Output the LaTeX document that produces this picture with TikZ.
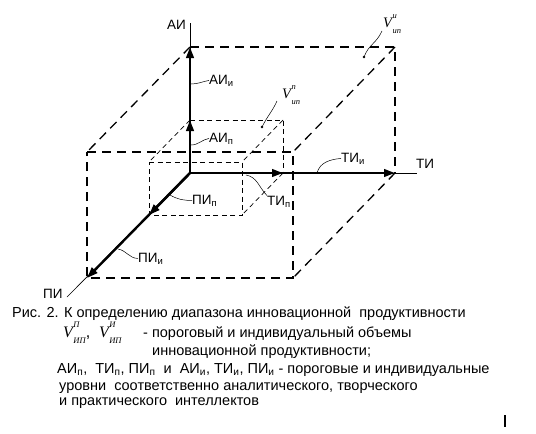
\documentclass[tikz,border=0pt]{standalone}
\usepackage{fontspec}
\setmainfont{Liberation Sans}
\newfontfamily\vserif{Liberation Serif}
\usepackage{tikz}
\usetikzlibrary{arrows.meta, positioning}

% volume symbol V with upper and lower index
\newcommand{\Vol}[2]{{\vserif\itshape V\kern0.5pt\rlap{\raisebox{0.62em}{\fontsize{8.5}{8.5}\selectfont #1}}\raisebox{-0.42em}{\fontsize{8.5}{8.5}\selectfont #2}}}

\begin{document}
\begin{tikzpicture}[x=1pt, y=-1pt,
    axis/.style={line width=0.6pt},
    vec/.style={line width=2.4pt, -{Triangle[length=11pt, width=7.5pt]}},
    bigbox/.style={line width=1.3pt, dash pattern=on 9pt off 6pt},
    smallbox/.style={line width=0.7pt, dash pattern=on 5pt off 3.5pt},
    leader/.style={line width=0.5pt},
    lbl/.style={font=\fontsize{13.5}{13.5}\selectfont, inner sep=0pt, anchor=base west},
    vlbl/.style={font=\fontsize{14.5}{14.5}\selectfont, inner sep=0pt, anchor=base west},
    captxt/.style={font=\fontsize{14.5}{15}\selectfont, inner sep=0pt, anchor=base west}]
    \useasboundingbox (0,0) rectangle (536,434);

    % Origin and axes
    \coordinate (O) at (190,173);
    \coordinate (AIend) at (190,23);
    \coordinate (TIend) at (417,173);
    \coordinate (PIend) at (67,297);

    % Individual levels (big box)
    \coordinate (AIi) at (190,47);
    \coordinate (TIi) at (395,173);
    \coordinate (PIi) at (87,278);
    \coordinate (Btr) at (395,47);
    \coordinate (Ftl) at (87,152);
    \coordinate (Ftr) at (293,152);
    \coordinate (Fbr) at (293,278);

    % Threshold levels (small box)
    \coordinate (AIp) at (190,120);
    \coordinate (TIp) at (283,173);
    \coordinate (PIp) at (149,215);
    \coordinate (btr) at (283,120);
    \coordinate (ftl) at (149,162);
    \coordinate (ftr) at (242,162);
    \coordinate (fbr) at (242,215);

    % Big box
    \draw[bigbox] (AIi) -- (Btr) -- (TIi);
    \draw[bigbox] (Ftl) -- (Ftr) -- (Fbr) -- (PIi) -- cycle;
    \draw[bigbox] (AIi) -- (Ftl);
    \draw[bigbox] (Btr) -- (Ftr);
    \draw[bigbox] (TIi) -- (Fbr);

    % Small box
    \draw[smallbox] (AIp) -- (btr) -- (TIp);
    \draw[smallbox] (ftl) -- (ftr) -- (fbr) -- (PIp) -- cycle;
    \draw[smallbox] (AIp) -- (ftl);
    \draw[smallbox] (btr) -- (ftr);
    \draw[smallbox] (TIp) -- (fbr);

    % Thin axis lines
    \draw[axis] (O) -- (AIend);
    \draw[axis] (O) -- (TIend);
    \draw[axis] (O) -- (PIend);

    % Level vectors
    \draw[vec] (O) -- (AIi);
    \draw[vec] (O) -- (TIi);
    \draw[vec] (O) -- (PIi);
    \draw[vec] (O) -- (AIp);
    \draw[vec] (O) -- (TIp);
    \draw[vec] (O) -- (PIp);

    % Axis names
    \node[lbl] (lAI) at (167,29) {АИ};
    \node[lbl] (lTI) at (416,168) {ТИ};
    \node[lbl] (lPI) at (43,298) {ПИ};

    % Level labels with leaders
    \node[lbl] (lAIi) at (209,84) {АИ\textsubscript{и}};
    \node[lbl] (lAIp) at (209,142) {АИ\textsubscript{п}};
    \node[lbl] (lTIi) at (341,162) {ТИ\textsubscript{и}};
    \node[lbl] (lTIp) at (267,205) {ТИ\textsubscript{п}};
    \node[lbl] (lPIp) at (192,204) {ПИ\textsubscript{п}};
    \node[lbl] (lPIi) at (138,262) {ПИ\textsubscript{и}};

    \coordinate (aAIi) at (191,84);
    \coordinate (aAIp) at (191,145);
    \coordinate (aTIi) at (317,173);
    \coordinate (aTIp) at (246,175);
    \coordinate (aPIp) at (170,195);
    \coordinate (aPIi) at (118,249);

    \draw[leader] (aAIi) to[out=0, in=190] (lAIi.west);
    \draw[leader] (aAIp) to[out=0, in=190] (lAIp.west);
    \draw[leader] (aTIi) to[out=75, in=185] (lTIi.west);
    \draw[leader] (aTIp) to[out=-10, in=135] (lTIp.north west);
    \draw[leader] (aPIp) to[out=-30, in=180] (lPIp.west);
    \draw[leader] (aPIi) to[out=-10, in=180] (lPIi.west);

    % Volumes
    \node[vlbl] (Vp) at (282,98) {\Vol{п}{ип}};
    \node[vlbl] (Vi) at (383,27) {\Vol{и}{ип}};
    \coordinate (dVp) at (262,127);
    \coordinate (dVi) at (364,57);
    \fill (dVp) circle (1.3);
    \fill (dVi) circle (1.3);
    \draw[leader] (dVp) .. controls (268,115) and (272,112) .. (277,101);
    \draw[leader] (dVi) .. controls (369,44) and (376,44) .. (382,31);

    % Caption
    \node[captxt] (c1) at (12,317) {Рис. 2. К определению диапазона инновационной \ продуктивности};
    \node[captxt, font=\fontsize{16}{16}\selectfont] (c2a) at (63,337) {\Vol{П}{ИП}, \ \Vol{И}{ИП}};
    \node[captxt] (c2b) at (143,337) {- пороговый и индивидуальный объемы};
    \node[captxt] (c3) at (152,355) {инновационной продуктивности;};
    \node[captxt] (c4) at (57,373) {АИ\textsubscript{п}, \ ТИ\textsubscript{п}, ПИ\textsubscript{п} \ и \ АИ\textsubscript{и}, ТИ\textsubscript{и}, ПИ\textsubscript{и} - пороговые и индивидуальные};
    \node[captxt] (c5) at (59,390) {уровни \ соответственно аналитического, творческого};
    \node[captxt] (c6) at (59,405) {и практического \ интеллектов};

    % stray mark
    \draw[line width=2pt] (505,415) -- (505,427);
\end{tikzpicture}
\end{document}
